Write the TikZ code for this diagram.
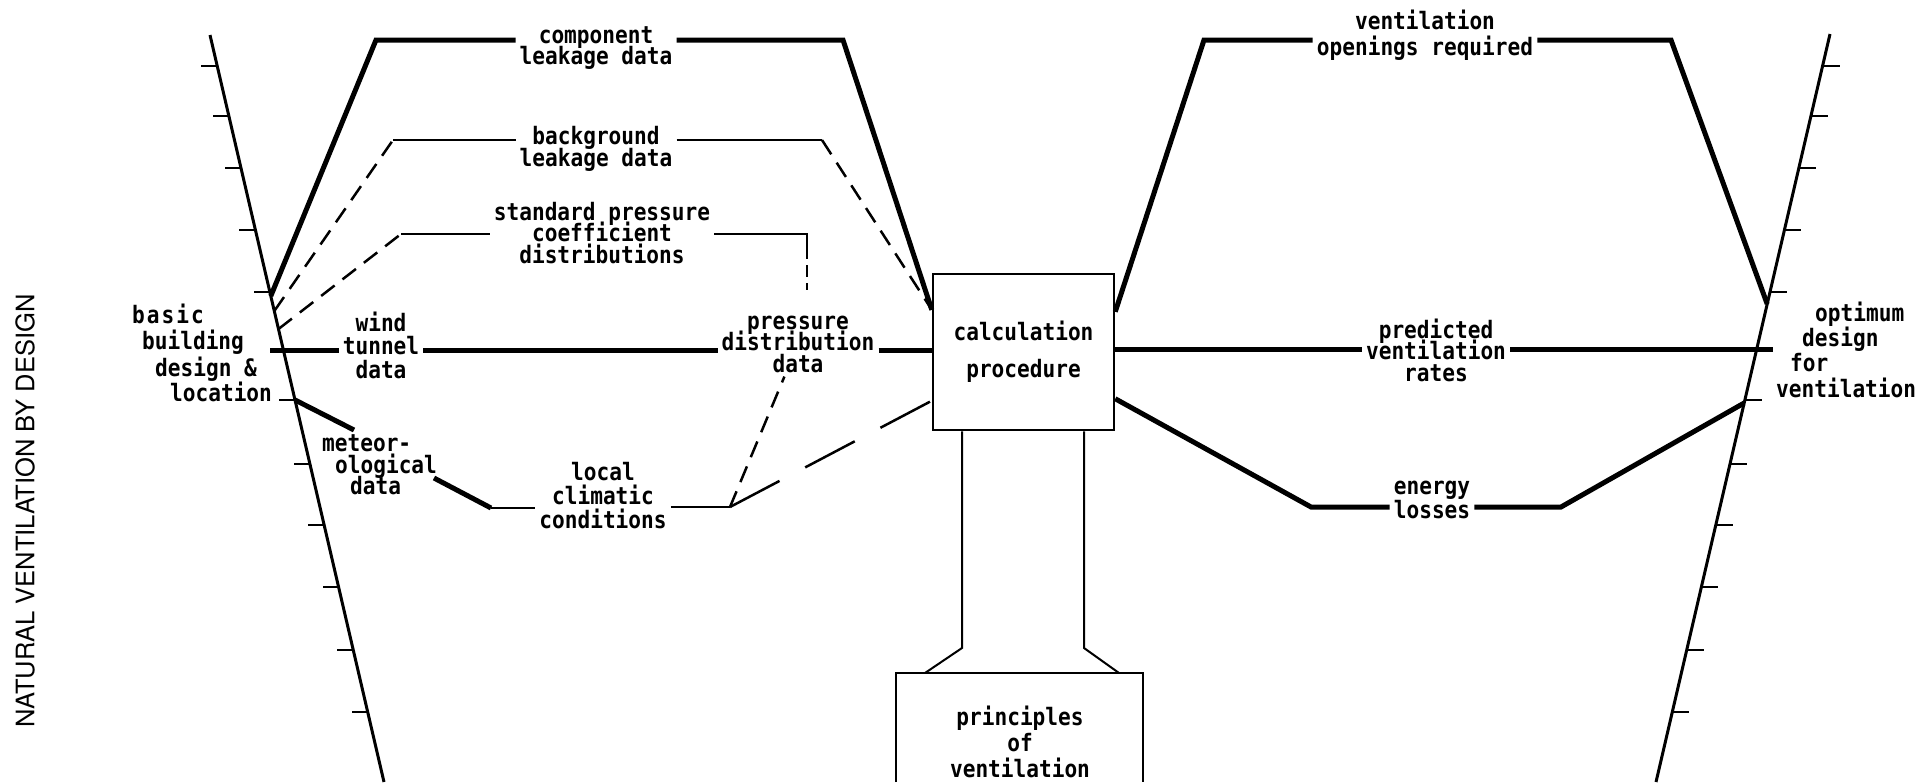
\documentclass[tikz,border=0pt]{standalone}
\usepackage{fontspec}
\setmonofont[FakeStretch=0.88]{DejaVu Sans Mono}
\setsansfont{TeX Gyre Heros}
\usepackage{tikz}
\usetikzlibrary{positioning,calc}
\lineskiplimit=-30pt

\tikzset{
  axisline/.style={line width=3pt},
  tickline/.style={line width=2.5pt},
  heavy/.style={line width=5pt},
  light/.style={line width=2.2pt},
  dashline/.style={line width=2.5pt, dash pattern=on 17pt off 10pt},
  longdash/.style={line width=2.5pt, dash pattern=on 56pt off 29pt},
  frame/.style={line width=2.5pt},
  col/.style={line width=2pt},
  lbl/.style={align=center, inner sep=4pt,
    font=\ttfamily\bfseries\fontsize{24}{21.5}\selectfont},
  box/.style={draw, line width=2.5pt},
}

\begin{document}
\begin{tikzpicture}[x=1pt, y=-1pt]
\useasboundingbox (0,0) rectangle (1924,782);

\node[rotate=90, font=\sffamily\fontsize{25.5}{25.5}\selectfont] (title) at (25,511) {NATURAL VENTILATION BY DESIGN};

% scales
\coordinate (la1) at (210,35);
\coordinate (la2) at (384,782);
\coordinate (ra1) at (1830,34);
\coordinate (ra2) at (1656,782);
\draw[axisline] (la1) -- (la2);
\draw[axisline] (ra1) -- (ra2);
\foreach \y in {66,116,168,230,292,400,464,525,587,650,712}{
  \draw[tickline] ($(la1)!{(\y-35)/747}!(la2)$) -- ++(-16,0);
  \draw[tickline] ($(ra1)!{(\y-34)/748}!(ra2)$) -- ++(17,0);
}
\coordinate (lc) at ($(la1)!0.3494!(la2)$);
\coordinate (lb) at ($(la1)!0.3695!(la2)$);
\coordinate (ls) at ($(la1)!0.3936!(la2)$);
\coordinate (lm) at ($(la1)!0.4886!(la2)$);
\coordinate (ro) at ($(ra1)!0.361!(ra2)$);
\coordinate (re) at ($(ra1)!0.4933!(ra2)$);

% labels
\node[lbl, align=left, anchor=west] (basic) at (128,353) {b\kern2pt a\kern2pt s\kern2pt i\kern2pt c\\[5pt]\hspace*{10pt}building\\[5pt]\hspace*{23pt}design \&\\[4pt]\hspace*{38pt}location};
\node[lbl] (comp) at (596,48) {component\\leakage data};
\node[lbl] (bgnd) at (596,149) {background\\leakage data};
\node[lbl] (stdp) at (602,233) {standard pressure\\coefficient\\distributions};
\node[lbl] (wind) at (381,345) {wind\\[2pt]tunnel\\[2pt]data};
\node[lbl] (pdd) at (798,344) {pressure\\distribution\\data};
\node[lbl, align=left, anchor=west] (meteo) at (318,465) {meteor-\\\hspace*{13pt}ological\\\hspace*{28pt}data};
\node[lbl] (local) at (603,496) {local\\[2.5pt]climatic\\[2.5pt]conditions};
\node[box, lbl, minimum width=181pt, minimum height=156pt] (calc) at (1023.5,352) {calculation\\[15.5pt]procedure};
\node[lbl] (open) at (1425,35) {ventilation\\[5pt]openings required};
\node[lbl] (pred) at (1436,350) {predicted\\ventilation\\rates};
\node[lbl] (energy) at (1432,500) {energy\\[2.5pt]losses};
\node[lbl, align=left, anchor=west] (opt) at (1772,350) {\hspace*{39pt}optimum\\[4pt]\hspace*{26pt}design\\[3pt]\hspace*{14pt}for\\[5pt]ventilation};
\node[lbl] (princ) at (1020,742) {principles\\[4.5pt]of\\[4.5pt]ventilation};

% component leakage
\coordinate (c1) at (376,40);
\coordinate (c2) at (843,40);
\coordinate (cin) at ($(calc.north west)+(0,37)$);
\draw[heavy] (lc) -- (c1) -- (c1 -| comp.west);
\draw[heavy] (comp.east |- c2) -- (c2) -- (cin);

% background leakage
\coordinate (b1) at (393,140);
\coordinate (b2) at (822,140);
\draw[dashline] (lb) -- (b1);
\draw[light] (b1) -- (b1 -| bgnd.west);
\draw[light] (bgnd.east |- b2) -- (b2);
\draw[dashline] (b2) -- (cin);

% pressure coefficients
\coordinate (s1) at (401,234);
\coordinate (s2) at (807,234);
\coordinate (s3) at (807,247);
\coordinate (s4) at (807,290);
\draw[dashline] (ls) -- (s1);
\draw[light] (s1) -- (s1 -| stdp.west);
\draw[light] (stdp.east |- s2) -- (s2) -- (s3);
\draw[dashline, dash pattern=on 12pt off 6pt] (s3) -- (s4);

% wind tunnel
\coordinate (w0) at (270,350);
\draw[heavy] (w0) -- (w0 -| wind.west);
\draw[heavy] (wind.east |- w0) -- (w0 -| pdd.west);
\draw[heavy] (pdd.east |- w0) -- (w0 -| calc.west);

% climate
\coordinate (m1) at (354,430);
\coordinate (m2) at (434,478);
\coordinate (m3) at (491,508);
\coordinate (m4) at (730,507);
\coordinate (cl) at ($(calc.north west)+(0,128)$);
\draw[heavy] (lm) -- (m1);
\draw[heavy] (m2) -- (m3);
\draw[light] (m3) -- (m3 -| local.west);
\draw[light] (local.east |- m4) -- (m4);
\draw[dashline] (m4) -- (pdd);
\draw[longdash] (m4) -- (cl);

% outputs
\coordinate (rin) at ($(calc.north east)+(0,39)$);
\coordinate (o1) at (1204,40);
\coordinate (o2) at (1671,40);
\draw[heavy] (rin) -- (o1) -- (o1 -| open.west);
\draw[heavy] (open.east |- o2) -- (o2) -- (ro);

\coordinate (p1) at (1773,349);
\draw[heavy] (calc.east |- p1) -- (p1 -| pred.west);
\draw[heavy] (pred.east |- p1) -- (p1);

\coordinate (rout) at ($(calc.north east)+(0,126)$);
\coordinate (e1) at (1311,507);
\coordinate (e2) at (1561,507);
\draw[heavy] (rout) -- (e1) -- (e1 -| energy.west);
\draw[heavy] (energy.east |- e2) -- (e2) -- (re);

% principles
\coordinate (k1) at (962,648);
\coordinate (k2) at (1084,648);
\coordinate (k3) at (925,673);
\coordinate (k4) at (1119,673);
\coordinate (pb1) at (896,782);
\coordinate (pb2) at (896,673);
\coordinate (pb3) at (1143,673);
\coordinate (pb4) at (1143,782);
\draw[col] (calc.south -| k1) -- (k1) -- (k3);
\draw[col] (calc.south -| k2) -- (k2) -- (k4);
\draw[frame] (pb1) -- (pb2) -- (pb3) -- (pb4);
\end{tikzpicture}
\end{document}
